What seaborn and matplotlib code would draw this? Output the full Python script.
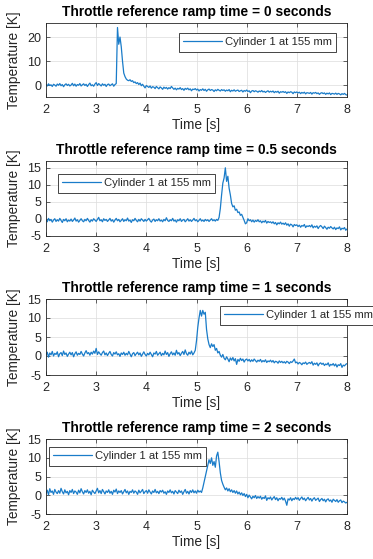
import numpy as np
import pandas as pd
import matplotlib
matplotlib.use("Agg")
import matplotlib.pyplot as plt
import seaborn as sns

# ---------------- data ----------------
time_s = np.round(np.linspace(2.0, 8.0, 241), 3)   # 0.025 s sampling grid

ramp_titles = [
    "Throttle reference ramp time = 0 seconds",
    "Throttle reference ramp time = 0.5 seconds",
    "Throttle reference ramp time = 1 seconds",
    "Throttle reference ramp time = 2 seconds",
]
series_label = "Cylinder 1 at 155 mm"

temp_ramp_0 = [
    0.2, -0.4, 0.5, -0.2, 0.1, -0.6, 0.3, 0.0, -0.5, 0.4,
    -0.1, 0.6, -0.3, 0.2, -0.7, 0.1, 0.5, -0.2, 0.3, -0.4,
    0.0, 0.7, -0.3, 0.4, -0.5, 0.2, -0.1, 0.6, -0.4, 0.1,
    0.5, -0.2, 0.3, -0.6, 0.2, 0.8, -0.3, 0.1, -0.5, 0.4,
    1.0, -0.2, 0.6, 0.1, -0.4, 0.5, -0.1, 0.3, -0.6, 0.2,
    0.4, -0.3, 0.1, 0.5, -0.5, 0.2, 0.6, 24.0, 17.0, 20.0,
    16.0, 10.0, 5.0, 3.5, 2.5, 2.0, 1.8, 2.2, 1.5, 1.8,
    1.0, 1.3, 0.6, 1.0, 0.2, 0.8, -0.3, 0.3, -0.5, -1.2,
    -0.2, -0.6, -1.0, -0.4, -1.3, -0.7, -0.9, -1.5, -0.6, -1.1,
    -1.6, -0.8, -1.2, -1.8, -0.9, -1.4, -1.0, -1.7, -1.1, -1.5,
    -0.6, -1.2, -1.8, -1.3, -2.0, -1.4, -1.7, -1.1, -1.9, -1.5,
    -2.2, -1.4, -1.8, -1.3, -2.0, -1.6, -2.4, -1.7, -1.9, -1.5,
    -2.1, -1.7, -2.5, -1.9, -2.2, -1.6, -2.3, -1.8, -2.6, -2.0,
    -1.7, -2.3, -1.9, -2.1, -2.7, -2.0, -2.4, -1.8, -2.2, -2.5,
    -1.9, -2.3, -2.0, -2.6, -2.1, -2.4, -1.9, -2.8, -2.2, -2.5,
    -2.0, -2.6, -2.3, -2.1, -2.7, -2.4, -2.2, -2.9, -2.3, -2.6,
    -2.1, -2.7, -2.4, -3.2, -2.5, -2.3, -2.8, -2.4, -2.6, -3.0,
    -2.5, -2.8, -2.3, -2.9, -2.6, -3.1, -2.7, -2.4, -3.0, -2.6,
    -2.9, -2.5, -3.2, -2.7, -3.0, -2.6, -3.4, -2.8, -3.0, -2.7,
    -3.1, -2.8, -3.5, -2.9, -3.2, -2.8, -3.0, -3.6, -2.9, -3.2,
    -2.9, -3.3, -3.0, -3.6, -3.1, -3.4, -3.0, -3.7, -3.2, -3.3,
    -3.5, -3.1, -3.8, -3.2, -3.4, -3.1, -3.6, -3.3, -3.9, -3.4,
    -3.2, -3.6, -3.3, -3.9, -3.4, -3.7, -3.3, -4.0, -3.5, -3.6,
    -3.8, -3.4, -3.9, -3.5, -3.7, -4.1, -3.6, -3.9, -3.5, -4.0,
    -4.2,
]

temp_ramp_05 = [
    -0.3, -0.9, 0.1, -0.6, -0.2, -1.0, -0.4, 0.0, -0.8, -0.3,
    -0.7, 0.1, -0.5, -1.1, -0.2, -0.6, 0.0, -0.9, -0.4, -0.7,
    -0.1, -0.8, -0.4, 0.2, -0.7, -0.3, -1.0, -0.5, 0.0, -0.6,
    -0.9, -0.2, -0.6, 0.1, -0.5, -1.0, -0.3, -0.7, 0.0, -0.4,
    -0.8, -0.2, 0.4, -0.6, -0.3, -0.9, 0.0, -0.5, -0.2, -0.8,
    -0.4, 0.1, -0.7, -0.3, -1.0, -0.4, 0.1, -0.6, -0.2, -0.9,
    -0.5, 0.0, -0.8, -0.3, -0.6, 0.2, -0.7, -0.4, -1.1, -0.3,
    -0.6, 0.1, -0.5, -0.9, -0.2, -0.7, 0.0, -0.4, -0.8, -0.2,
    -0.7, -0.3, 0.1, -0.6, -1.0, -0.4, -0.1, -0.8, -0.3, -0.6,
    0.0, -0.7, -0.4, -0.9, -0.2, -0.6, 0.3, -0.5, -0.8, -0.3,
    -0.6, 0.1, -0.7, -0.4, -1.0, -0.3, -0.6, 0.0, -0.8, -0.4,
    -0.2, -0.9, -0.5, 0.0, -0.7, -0.3, -0.8, -0.4, 0.1, -0.6,
    -0.3, -0.9, -0.5, 0.0, -0.7, -0.4, -0.8, -0.2, -0.6, -0.3,
    -0.8, -0.4, 0.0, -0.6, -0.3, -0.7, -0.2, -0.5, 0.4, 3.0,
    7.0, 10.5, 12.0, 15.0, 11.0, 12.5, 9.0, 7.0, 4.5, 3.5,
    3.8, 2.5, 2.8, 1.8, 2.0, 1.0, 1.3, 0.4, -0.5, -1.5,
    -1.2, 0.0, -0.6, -0.3, -0.9, -0.4, -1.0, -0.5, -0.8, -0.3,
    -0.9, -0.6, -1.2, -0.7, -1.0, -0.5, -1.3, -0.8, -1.1, -0.9,
    -1.3, -0.9, -1.5, -1.1, -1.8, -1.2, -1.5, -1.0, -1.6, -1.3,
    -1.7, -1.2, -1.9, -1.5, -2.2, -1.6, -1.8, -2.4, -1.7, -2.0,
    -1.8, -2.3, -1.9, -2.5, -2.0, -2.2, -1.7, -2.6, -2.1, -2.3,
    -2.0, -2.4, -1.8, -2.7, -2.2, -2.5, -2.1, -2.9, -2.3, -2.0,
    -2.4, -2.9, -2.2, -2.6, -3.1, -2.5, -2.8, -2.3, -2.7, -3.0,
    -2.5, -3.2, -2.7, -2.9, -2.4, -3.3, -2.8, -3.0, -2.6, -3.4,
    -3.0,
]

temp_ramp_1 = [
    0.2, 1.0, -0.3, 0.8, 0.3, 1.2, 0.0, 0.7, 0.4, 1.1,
    -0.2, 0.6, 0.9, 0.1, 1.3, 0.4, 0.8, -0.1, 0.5, 1.0,
    0.3, 0.9, -0.2, 0.6, 1.1, 0.2, 0.7, 0.4, 1.2, 0.5,
    0.0, 0.8, 1.4, 0.6, 0.9, 0.2, 1.0, 0.5, 1.3, 0.7,
    2.0, 0.4, 1.1, 0.6, 0.2, 0.9, 1.3, 0.3, 0.8, 0.1,
    0.7, 1.2, 0.4, 0.0, 0.9, 0.5, 1.1, 0.3, 0.6, -0.1,
    0.8, 0.4, 1.0, 0.2, 0.7, 0.3, 1.2, 0.5, -0.2, 0.6,
    0.9, 0.1, 0.6, 1.0, 0.3, 0.8, -0.1, 0.5, 1.1, 0.4,
    0.0, 0.7, 0.3, 1.0, 0.4, -0.2, 0.8, 0.5, 1.2, 0.2,
    0.6, 1.0, 0.1, 0.7, 0.3, 1.3, 0.4, 0.9, -0.1, 0.6,
    1.1, 0.3, 0.8, 0.2, 1.5, 0.5, 0.9, 0.1, 0.7, 1.2,
    0.4, 1.6, 0.6, 0.2, 1.0, 0.5, 1.3, 0.3, 0.8, 1.5,
    4.0, 7.5, 10.0, 12.0, 10.5, 12.0, 11.0, 11.5, 7.0, 4.5,
    3.0, 2.2, 3.2, 2.5, 3.0, 1.5, 2.0, 0.8, 1.2, 0.2,
    -0.3, 0.4, -0.6, -1.0, -0.2, -0.8, -1.5, -0.5, -1.1, -0.4,
    -1.3, -0.7, -2.2, -0.9, -1.4, -0.6, -1.2, -0.8, -1.6, -1.0,
    -0.8, -1.3, -0.9, -1.5, -1.0, -1.4, -0.8, -1.2, -1.6, -1.1,
    -1.4, -0.9, -1.6, -1.2, -1.5, -1.0, -1.7, -1.3, -1.5, -1.1,
    -1.6, -1.2, -1.8, -1.4, -1.5, -1.9, -1.3, -1.7, -1.4, -1.8,
    -1.5, -1.9, -1.4, -1.6, -2.0, -1.5, -1.7, -1.3, -0.8, -1.8,
    -1.6, -2.1, -1.7, -1.9, -2.3, -1.8, -2.0, -1.6, -2.2, -1.9,
    -1.7, -2.0, -1.5, -2.4, -1.9, -2.2, -1.8, -2.6, -2.0, -1.8,
    -2.2, -1.9, -2.5, -2.1, -2.3, -1.8, -2.7, -2.2, -2.4, -2.0,
    -2.6, -2.1, -2.9, -2.3, -2.5, -2.0, -3.0, -2.4, -2.6, -2.2,
    -2.0,
]

temp_ramp_2 = [
    0.5, 1.4, 0.2, 1.8, 0.8, 1.2, 0.3, 1.6, 0.9, 0.5,
    1.3, 0.6, 1.9, 1.0, 0.4, 1.5, 0.7, 1.1, 0.2, 1.3,
    0.8, 1.6, 0.5, 1.2, 0.9, 0.3, 1.4, 0.7, 1.8, 1.0,
    0.4, 1.3, 0.8, 1.5, 0.6, 1.1, 0.2, 1.4, 0.9, 0.5,
    1.2, 1.9, 0.7, 1.3, 0.5, 1.6, 1.0, 0.4, 1.2, 0.8,
    1.5, 0.6, 1.1, 0.3, 1.4, 0.9, 1.7, 0.5, 1.2, 0.8,
    1.3, 0.4, 1.0, 1.6, 0.7, 1.2, 0.3, 1.1, 0.8, 1.5,
    0.6, 1.2, 0.9, 0.3, 1.4, 0.7, 1.1, 1.6, 0.5, 1.0,
    1.3, 0.6, 1.5, 0.9, 0.4, 1.2, 0.8, 1.6, 0.7, 1.1,
    0.5, 1.3, 0.9, 1.4, 0.6, 1.0, 0.3, 1.2, 0.8, 1.5,
    0.7, 1.1, 0.4, 1.3, 0.9, 0.5, 1.4, 0.8, 1.2, 0.3,
    1.0, 1.6, 0.6, 1.1, 0.4, 1.3, 0.8, 1.5, 0.7, 1.2,
    0.6, 1.4, 0.9, 1.2, 0.8, 2.0, 3.5, 5.0, 6.5, 8.0,
    9.5, 8.5, 10.0, 8.0, 9.0, 7.5, 10.5, 11.5, 9.0, 6.0,
    4.0, 3.0, 2.2, 1.5, 2.0, 1.2, 1.8, 1.0, 1.5, 0.8,
    1.3, 0.6, 1.2, 0.4, 0.9, 0.2, 0.7, 0.0, 0.5, -0.3,
    0.3, -0.6, 0.1, -0.4, -0.9, -0.2, -0.6, 0.0, -0.8, -0.3,
    -0.7, -0.2, -1.0, -0.5, -0.8, -0.1, -1.3, -0.6, -0.9, -0.4,
    -1.2, -0.7, -0.3, -1.1, -0.6, -1.4, -0.8, -1.0, -0.5, -1.2,
    -0.7, -1.5, -2.6, -0.9, -1.2, -0.6, -1.4, -0.8, -1.1, -0.5,
    -1.0, -0.6, -1.3, -0.8, -0.4, -1.1, -0.7, -1.4, -0.9, -0.5,
    -1.2, -0.8, -1.5, -0.9, -0.6, -1.3, -1.0, -0.7, -1.6, -1.1,
    -0.8, -1.4, -1.0, -1.7, -1.1, -0.9, -1.5, -1.2, -1.8, -1.0,
    -1.3, -1.6, -1.1, -1.8, -1.4, -1.2, -1.9, -1.5, -1.7, -2.0,
    -1.8,
]

all_series = [temp_ramp_0, temp_ramp_05, temp_ramp_1, temp_ramp_2]
y_limits = [(-5, 26), (-5, 17), (-5, 15), (-5, 15)]
y_ticks = [[0, 10, 20], [-5, 0, 5, 10, 15], [-5, 0, 5, 10, 15], [-5, 0, 5, 10, 15]]
x_ticks = [2, 3, 4, 5, 6, 7, 8]

# ---------------- style ----------------
sns.set_theme(style="white")
plt.rcParams["font.family"] = ["Liberation Sans", "DejaVu Sans"]
plt.rcParams["axes.unicode_minus"] = False

W, H = 373, 559
fig = plt.figure(figsize=(W / 100, H / 100), dpi=100)
fig.patch.set_facecolor("white")

# axes boxes in pixels: (top, bottom)
boxes_px = [(22.7, 97.0), (161.0, 235.7), (299.0, 375.0), (439.0, 514.3)]
left_px, right_px = 46.0, 347.0
legend_anchor = [(0.442, 0.861), (0.040, 0.826), (0.578, 0.908), (0.010, 0.894)]

dark = "#262626"
line_color = "#1a7cc9"

for k in range(4):
    top, bot = boxes_px[k]
    ax = fig.add_axes([left_px / W, 1 - bot / H, (right_px - left_px) / W, (bot - top) / H])
    df = pd.DataFrame({"Time [s]": time_s, "Temperature [K]": all_series[k]})
    sns.lineplot(data=df, x="Time [s]", y="Temperature [K]", ax=ax, color=line_color,
                 linewidth=0.9, label=series_label, estimator=None)
    ax.set_xlim(2, 8)
    ax.set_ylim(*y_limits[k])
    ax.set_xticks(x_ticks)
    ax.set_yticks(y_ticks[k])
    ax.grid(True, color="#dcdcdc", linewidth=0.5)
    ax.set_axisbelow(True)
    for sp in ax.spines.values():
        sp.set_visible(True)
        sp.set_color(dark)
        sp.set_linewidth(0.6)
    ax.tick_params(axis="both", which="major", direction="in", length=3, width=0.5,
                   color=dark, labelcolor=dark, labelsize=9, top=True, right=True,
                   bottom=True, left=True)
    ax.tick_params(axis="x", pad=5)
    ax.tick_params(axis="y", pad=3.5)
    ax.set_xlabel("Time [s]", fontsize=9.9, color=dark, labelpad=1.5)
    ax.set_ylabel("Temperature [K]", fontsize=9.9, color=dark)
    ax.yaxis.set_label_coords(-0.083, 0.5)
    ax.set_title(ramp_titles[k], fontsize=9.9, fontweight="bold", color="black", pad=5)
    leg = ax.legend(loc="upper left", bbox_to_anchor=legend_anchor[k], borderaxespad=0,
                    fontsize=8.1, frameon=True, fancybox=False, handlelength=3.4,
                    handletextpad=0.3, borderpad=0.38, framealpha=1)
    leg.get_frame().set_edgecolor(dark)
    leg.get_frame().set_linewidth(0.6)
    for t in leg.get_texts():
        t.set_color(dark)

fig.savefig("out.png", dpi=100, facecolor="white")
